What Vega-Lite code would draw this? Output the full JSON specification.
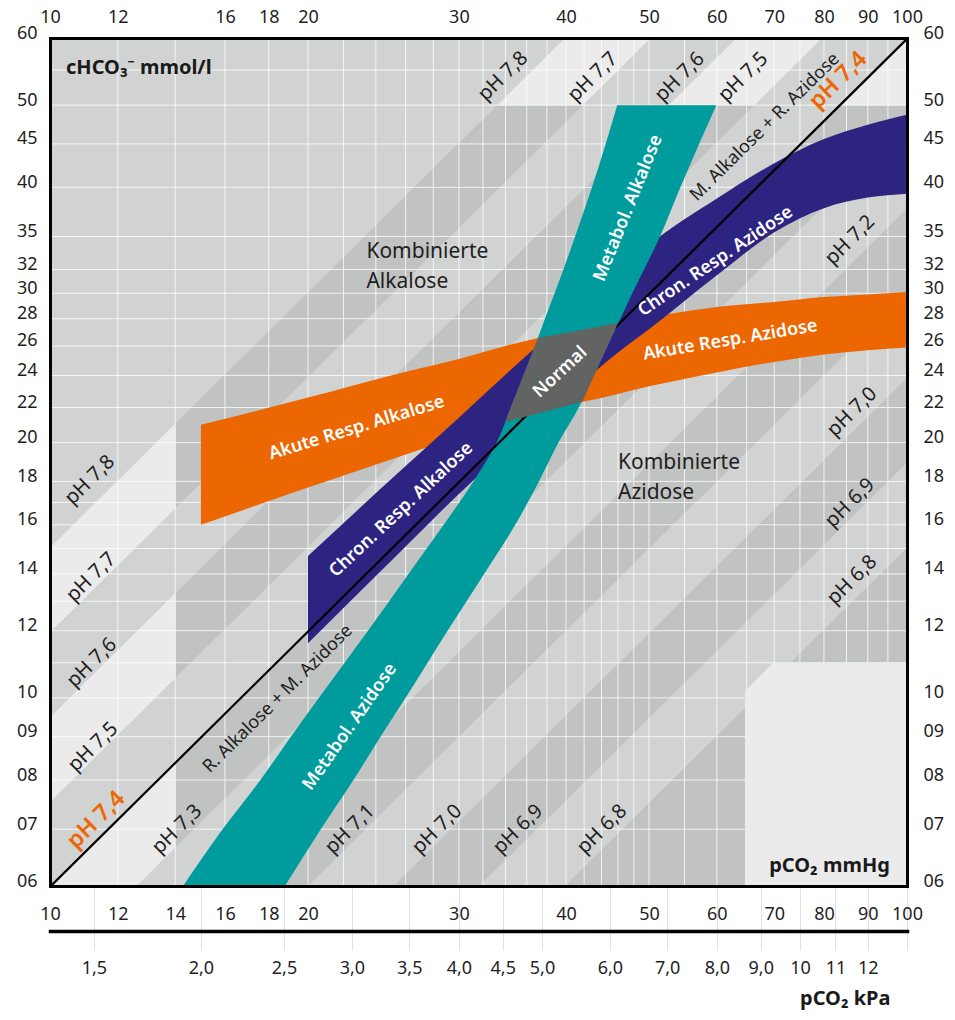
{
  "$schema": "https://vega.github.io/schema/vega-lite/v6.json",
  "width": 857,
  "height": 848,
  "autosize": {"type": "none"},
  "padding": {"left": 50, "top": 38, "right": 48, "bottom": 134},
  "background": "#ffffff",
  "config": {
    "font": "Noto Sans",
    "view": {"fill": "#d1d2d2", "stroke": null}
  },
  "datasets": {
    "acid_bands": [
      {"band": "7.7-7.8", "pco2": 10, "hco3_low": 11.943, "hco3_high": 15.036},
      {"band": "7.7-7.8", "pco2": 100, "hco3_low": 119.43, "hco3_high": 150.36},
      {"band": "7.5-7.6", "pco2": 10, "hco3_low": 7.536, "hco3_high": 9.487},
      {"band": "7.5-7.6", "pco2": 100, "hco3_low": 75.36, "hco3_high": 94.87},
      {"band": "7.3-7.4", "pco2": 10, "hco3_low": 4.755, "hco3_high": 5.986},
      {"band": "7.3-7.4", "pco2": 100, "hco3_low": 47.55, "hco3_high": 59.86},
      {"band": "7.1-7.2", "pco2": 10, "hco3_low": 3.0, "hco3_high": 3.777},
      {"band": "7.1-7.2", "pco2": 100, "hco3_low": 30.0, "hco3_high": 37.77},
      {"band": "6.9-7.0", "pco2": 10, "hco3_low": 1.893, "hco3_high": 2.383},
      {"band": "6.9-7.0", "pco2": 100, "hco3_low": 18.93, "hco3_high": 23.83},
      {"band": "below 6.8", "pco2": 10, "hco3_low": 0.238, "hco3_high": 1.504},
      {"band": "below 6.8", "pco2": 100, "hco3_low": 2.383, "hco3_high": 15.04}
    ],
    "edge_strips": [
      {"pco2_from": 10, "pco2_to": 14, "hco3_from": 6, "hco3_to": 60},
      {"pco2_from": 10, "pco2_to": 100, "hco3_from": 50, "hco3_to": 60}
    ],
    "left_strip_bands": [
      {"band": "7.7-7.8", "pco2": 10, "hco3_low": 11.943, "hco3_high": 15.036},
      {"band": "7.7-7.8", "pco2": 14, "hco3_low": 16.72, "hco3_high": 21.05},
      {"band": "7.5-7.6", "pco2": 10, "hco3_low": 7.536, "hco3_high": 9.487},
      {"band": "7.5-7.6", "pco2": 14, "hco3_low": 10.55, "hco3_high": 13.282},
      {"band": "7.3-7.4", "pco2": 10, "hco3_low": 4.755, "hco3_high": 5.986},
      {"band": "7.3-7.4", "pco2": 14, "hco3_low": 6.657, "hco3_high": 8.38}
    ],
    "top_strip_bands": [
      {"band": "7.7-7.8", "hco3": 50, "pco2_low": 33.25, "pco2_high": 41.86},
      {"band": "7.7-7.8", "hco3": 60, "pco2_low": 39.91, "pco2_high": 50.24},
      {"band": "7.5-7.6", "hco3": 50, "pco2_low": 52.71, "pco2_high": 66.35},
      {"band": "7.5-7.6", "hco3": 60, "pco2_low": 63.25, "pco2_high": 79.62},
      {"band": "7.3-7.4", "hco3": 50, "pco2_low": 83.53, "pco2_high": 105.16},
      {"band": "7.3-7.4", "hco3": 60, "pco2_low": 100.24, "pco2_high": 126.19}
    ],
    "grid_pco2": [
      {"pco2": 12}, {"pco2": 14}, {"pco2": 16}, {"pco2": 18}, {"pco2": 20},
      {"pco2": 22}, {"pco2": 24}, {"pco2": 26}, {"pco2": 28}, {"pco2": 30},
      {"pco2": 32}, {"pco2": 34}, {"pco2": 36}, {"pco2": 38}, {"pco2": 40},
      {"pco2": 42}, {"pco2": 44}, {"pco2": 46}, {"pco2": 48}, {"pco2": 50},
      {"pco2": 55}, {"pco2": 60}, {"pco2": 65}, {"pco2": 70}, {"pco2": 75},
      {"pco2": 80}, {"pco2": 85}, {"pco2": 90}, {"pco2": 95}
    ],
    "grid_hco3": [
      {"hco3": 7}, {"hco3": 8}, {"hco3": 9}, {"hco3": 10}, {"hco3": 11},
      {"hco3": 12}, {"hco3": 13}, {"hco3": 14}, {"hco3": 15}, {"hco3": 16},
      {"hco3": 17}, {"hco3": 18}, {"hco3": 20}, {"hco3": 22}, {"hco3": 24},
      {"hco3": 26}, {"hco3": 28}, {"hco3": 30}, {"hco3": 32}, {"hco3": 35},
      {"hco3": 40}, {"hco3": 45}, {"hco3": 50}, {"hco3": 55}
    ],
    "corner": [
      {"pco2": 64.7, "hco3_top": 10.19, "hco3_bottom": 6},
      {"pco2": 69.8, "hco3_top": 11.0, "hco3_bottom": 6},
      {"pco2": 100, "hco3_top": 11.0, "hco3_bottom": 6}
    ],
    "acute": [
      {"pco2": 15, "hco3_high": 21.0, "hco3_low": 16.0},
      {"pco2": 20, "hco3_high": 22.6, "hco3_low": 17.7},
      {"pco2": 25, "hco3_high": 24.0, "hco3_low": 19.1},
      {"pco2": 30, "hco3_high": 25.1, "hco3_low": 20.3},
      {"pco2": 35, "hco3_high": 26.2, "hco3_low": 21.3},
      {"pco2": 40, "hco3_high": 27.0, "hco3_low": 22.1},
      {"pco2": 45, "hco3_high": 27.6, "hco3_low": 22.7},
      {"pco2": 50, "hco3_high": 28.1, "hco3_low": 23.3},
      {"pco2": 60, "hco3_high": 28.9, "hco3_low": 24.2},
      {"pco2": 70, "hco3_high": 29.3, "hco3_low": 24.9},
      {"pco2": 80, "hco3_high": 29.7, "hco3_low": 25.4},
      {"pco2": 90, "hco3_high": 29.9, "hco3_low": 25.7},
      {"pco2": 100, "hco3_high": 30.1, "hco3_low": 25.9}
    ],
    "chronic": [
      {"pco2": 20, "hco3_high": 14.7, "hco3_low": 11.6},
      {"pco2": 25, "hco3_high": 18.1, "hco3_low": 14.5},
      {"pco2": 30, "hco3_high": 21.4, "hco3_low": 17.4},
      {"pco2": 35, "hco3_high": 24.7, "hco3_low": 20.1},
      {"pco2": 40, "hco3_high": 27.9, "hco3_low": 22.6},
      {"pco2": 45, "hco3_high": 31.1, "hco3_low": 25.1},
      {"pco2": 50, "hco3_high": 34.2, "hco3_low": 27.2},
      {"pco2": 60, "hco3_high": 38.8, "hco3_low": 31.5},
      {"pco2": 70, "hco3_high": 42.7, "hco3_low": 35.4},
      {"pco2": 80, "hco3_high": 45.6, "hco3_low": 37.8},
      {"pco2": 90, "hco3_high": 47.4, "hco3_low": 38.9},
      {"pco2": 100, "hco3_high": 48.7, "hco3_low": 39.3}
    ],
    "metabolic": [
      {"hco3": 6, "pco2_low": 14.3, "pco2_high": 18.8},
      {"hco3": 7, "pco2_low": 15.9, "pco2_high": 20.7},
      {"hco3": 8, "pco2_low": 17.6, "pco2_high": 22.6},
      {"hco3": 9, "pco2_low": 19.1, "pco2_high": 24.3},
      {"hco3": 10, "pco2_low": 20.6, "pco2_high": 26.0},
      {"hco3": 12, "pco2_low": 23.5, "pco2_high": 29.1},
      {"hco3": 14, "pco2_low": 26.2, "pco2_high": 32.1},
      {"hco3": 16, "pco2_low": 28.8, "pco2_high": 34.9},
      {"hco3": 18, "pco2_low": 31.2, "pco2_high": 37.2},
      {"hco3": 20, "pco2_low": 33.2, "pco2_high": 39.2},
      {"hco3": 22, "pco2_low": 34.5, "pco2_high": 41.4},
      {"hco3": 24, "pco2_low": 35.7, "pco2_high": 43.1},
      {"hco3": 26, "pco2_low": 36.8, "pco2_high": 44.7},
      {"hco3": 28, "pco2_low": 37.8, "pco2_high": 46.3},
      {"hco3": 30, "pco2_low": 38.8, "pco2_high": 47.8},
      {"hco3": 35, "pco2_low": 41.0, "pco2_high": 51.5},
      {"hco3": 40, "pco2_low": 42.9, "pco2_high": 54.4},
      {"hco3": 45, "pco2_low": 44.5, "pco2_high": 57.2},
      {"hco3": 50, "pco2_low": 45.9, "pco2_high": 59.9}
    ],
    "normal": [
      {"hco3": 21.15, "pco2_low": 33.96, "pco2_high": 33.96},
      {"hco3": 22.33, "pco2_low": 34.68, "pco2_high": 41.77},
      {"hco3": 26.57, "pco2_low": 37.11, "pco2_high": 45.17},
      {"hco3": 27.68, "pco2_low": 46.0, "pco2_high": 46.0}
    ],
    "ph74_line": [
      {"pco2": 10, "hco3": 5.986, "pco2_end": 100, "hco3_end": 59.86}
    ],
    "ph_labels": [
      {"label": "pH 7,8", "pco2": 11.13, "hco3": 18.07},
      {"label": "pH 7,7", "pco2": 11.17, "hco3": 13.88},
      {"label": "pH 7,6", "pco2": 11.19, "hco3": 11.0},
      {"label": "pH 7,5", "pco2": 11.23, "hco3": 8.75},
      {"label": "pH 7,8", "pco2": 33.78, "hco3": 54.1},
      {"label": "pH 7,7", "pco2": 43.0, "hco3": 53.97},
      {"label": "pH 7,6", "pco2": 54.3, "hco3": 53.97},
      {"label": "pH 7,5", "pco2": 64.4, "hco3": 53.97},
      {"label": "pH 7,2", "pco2": 85.8, "hco3": 34.66},
      {"label": "pH 7,0", "pco2": 86.3, "hco3": 21.74},
      {"label": "pH 6,9", "pco2": 85.8, "hco3": 16.98},
      {"label": "pH 6,8", "pco2": 86.3, "hco3": 13.77},
      {"label": "pH 7,3", "pco2": 14.07, "hco3": 7.0},
      {"label": "pH 7,1", "pco2": 22.39, "hco3": 7.0},
      {"label": "pH 7,0", "pco2": 28.29, "hco3": 7.0},
      {"label": "pH 6,9", "pco2": 35.17, "hco3": 7.0},
      {"label": "pH 6,8", "pco2": 44.07, "hco3": 7.0}
    ],
    "ph74_labels": [
      {"label": "pH 7,4", "pco2": 11.32, "hco3": 7.18},
      {"label": "pH 7,4", "pco2": 83.1, "hco3": 53.5}
    ],
    "mixed_labels": [
      {"label": "M. Alkalose + R. Azidose", "pco2": 68.3, "hco3": 47.1},
      {"label": "R. Alkalose + M. Azidose", "pco2": 18.45, "hco3": 9.97}
    ],
    "region_labels": [
      {"label": "Kombinierte\nAlkalose", "pco2": 23.4, "hco3": 33.6},
      {"label": "Kombinierte\nAzidose", "pco2": 46.0, "hco3": 18.9}
    ]
  },
  "resolve": {
    "scale": {"x": "independent", "y": "independent"},
    "axis": {"x": "independent", "y": "independent"}
  },
  "layer": [
    {
      "layer": [
        {
          "data": {"name": "acid_bands"},
          "mark": {"type": "area", "orient": "vertical", "color": "#c1c2c2", "clip": true},
          "encoding": {
            "x": {"field": "pco2", "type": "quantitative", "scale": {"type": "log", "domain": [10, 100], "nice": false}, "axis": null},
            "y": {"field": "hco3_low", "type": "quantitative", "scale": {"type": "log", "domain": [6, 60], "nice": false}, "axis": null, "stack": null},
            "y2": {"field": "hco3_high"},
            "detail": {"field": "band", "type": "nominal"}
          }
        },
        {
          "data": {"name": "edge_strips"},
          "mark": {"type": "rect", "color": "#d1d2d2", "clip": true},
          "encoding": {
            "x": {"field": "pco2_from", "type": "quantitative", "scale": {"type": "log", "domain": [10, 100], "nice": false}, "axis": null},
            "x2": {"field": "pco2_to"},
            "y": {"field": "hco3_from", "type": "quantitative", "scale": {"type": "log", "domain": [6, 60], "nice": false}, "axis": null},
            "y2": {"field": "hco3_to"}
          }
        },
        {
          "data": {"name": "left_strip_bands"},
          "mark": {"type": "area", "orient": "vertical", "color": "#ebebeb", "clip": true},
          "encoding": {
            "x": {"field": "pco2", "type": "quantitative", "scale": {"type": "log", "domain": [10, 100], "nice": false}, "axis": null},
            "y": {"field": "hco3_low", "type": "quantitative", "scale": {"type": "log", "domain": [6, 60], "nice": false}, "axis": null, "stack": null},
            "y2": {"field": "hco3_high"},
            "detail": {"field": "band", "type": "nominal"}
          }
        },
        {
          "data": {"name": "top_strip_bands"},
          "mark": {"type": "area", "orient": "horizontal", "color": "#ebebeb", "clip": true},
          "encoding": {
            "y": {"field": "hco3", "type": "quantitative", "scale": {"type": "log", "domain": [6, 60], "nice": false}, "axis": null},
            "x": {"field": "pco2_low", "type": "quantitative", "scale": {"type": "log", "domain": [10, 100], "nice": false}, "axis": null, "stack": null},
            "x2": {"field": "pco2_high"},
            "detail": {"field": "band", "type": "nominal"}
          }
        },
        {
          "data": {"name": "grid_pco2"},
          "mark": {"type": "rule", "color": "#ffffff", "opacity": 0.78, "strokeWidth": 1, "clip": true},
          "encoding": {
            "x": {"field": "pco2", "type": "quantitative", "scale": {"type": "log", "domain": [10, 100], "nice": false}, "axis": null}
          }
        },
        {
          "data": {"name": "grid_hco3"},
          "mark": {"type": "rule", "color": "#ffffff", "opacity": 0.78, "strokeWidth": 1, "clip": true},
          "encoding": {
            "y": {"field": "hco3", "type": "quantitative", "scale": {"type": "log", "domain": [6, 60], "nice": false}, "axis": null}
          }
        },
        {
          "data": {"name": "corner"},
          "mark": {"type": "area", "orient": "vertical", "color": "#ebebeb", "clip": true},
          "encoding": {
            "x": {"field": "pco2", "type": "quantitative", "scale": {"type": "log", "domain": [10, 100], "nice": false}, "axis": null},
            "y": {"field": "hco3_top", "type": "quantitative", "scale": {"type": "log", "domain": [6, 60], "nice": false}, "axis": null, "stack": null},
            "y2": {"field": "hco3_bottom"}
          }
        },
        {
          "data": {"name": "acute"},
          "mark": {"type": "area", "orient": "vertical", "interpolate": "monotone", "color": "#ec6602", "clip": true},
          "encoding": {
            "x": {"field": "pco2", "type": "quantitative", "scale": {"type": "log", "domain": [10, 100], "nice": false}, "axis": null},
            "y": {"field": "hco3_high", "type": "quantitative", "scale": {"type": "log", "domain": [6, 60], "nice": false}, "axis": null, "stack": null},
            "y2": {"field": "hco3_low"}
          }
        },
        {
          "data": {"name": "chronic"},
          "mark": {"type": "area", "orient": "vertical", "interpolate": "monotone", "color": "#2d2482", "clip": true},
          "encoding": {
            "x": {"field": "pco2", "type": "quantitative", "scale": {"type": "log", "domain": [10, 100], "nice": false}, "axis": null},
            "y": {"field": "hco3_high", "type": "quantitative", "scale": {"type": "log", "domain": [6, 60], "nice": false}, "axis": null, "stack": null},
            "y2": {"field": "hco3_low"}
          }
        },
        {
          "data": {"name": "metabolic"},
          "mark": {"type": "area", "orient": "horizontal", "interpolate": "monotone", "color": "#009b9d", "clip": true},
          "encoding": {
            "y": {"field": "hco3", "type": "quantitative", "scale": {"type": "log", "domain": [6, 60], "nice": false}, "axis": null},
            "x": {"field": "pco2_low", "type": "quantitative", "scale": {"type": "log", "domain": [10, 100], "nice": false}, "axis": null, "stack": null},
            "x2": {"field": "pco2_high"}
          }
        },
        {
          "data": {"name": "ph74_line"},
          "mark": {"type": "rule", "color": "#000000", "strokeWidth": 2.2, "clip": true},
          "encoding": {
            "x": {"field": "pco2", "type": "quantitative", "scale": {"type": "log", "domain": [10, 100], "nice": false}, "axis": null},
            "y": {"field": "hco3", "type": "quantitative", "scale": {"type": "log", "domain": [6, 60], "nice": false}, "axis": null},
            "x2": {"field": "pco2_end"},
            "y2": {"field": "hco3_end"}
          }
        },
        {
          "data": {"name": "normal"},
          "mark": {"type": "area", "orient": "horizontal", "color": "#626463", "clip": true},
          "encoding": {
            "y": {"field": "hco3", "type": "quantitative", "scale": {"type": "log", "domain": [6, 60], "nice": false}, "axis": null},
            "x": {"field": "pco2_low", "type": "quantitative", "scale": {"type": "log", "domain": [10, 100], "nice": false}, "axis": null, "stack": null},
            "x2": {"field": "pco2_high"}
          }
        },
        {
          "data": {"name": "ph_labels"},
          "mark": {"type": "text", "angle": 315.3, "fontSize": 20, "color": "#1f1f1f", "align": "center", "baseline": "middle"},
          "encoding": {
            "x": {"field": "pco2", "type": "quantitative", "scale": {"type": "log", "domain": [10, 100], "nice": false}, "axis": null},
            "y": {"field": "hco3", "type": "quantitative", "scale": {"type": "log", "domain": [6, 60], "nice": false}, "axis": null},
            "text": {"field": "label", "type": "nominal"}
          }
        },
        {
          "data": {"name": "ph74_labels"},
          "mark": {"type": "text", "angle": 315.3, "fontSize": 23, "fontWeight": 600, "color": "#ec6602", "align": "center", "baseline": "middle"},
          "encoding": {
            "x": {"field": "pco2", "type": "quantitative", "scale": {"type": "log", "domain": [10, 100], "nice": false}, "axis": null},
            "y": {"field": "hco3", "type": "quantitative", "scale": {"type": "log", "domain": [6, 60], "nice": false}, "axis": null},
            "text": {"field": "label", "type": "nominal"}
          }
        },
        {
          "data": {"name": "mixed_labels"},
          "mark": {"type": "text", "angle": 315.3, "fontSize": 18, "color": "#1f1f1f", "align": "center", "baseline": "middle"},
          "encoding": {
            "x": {"field": "pco2", "type": "quantitative", "scale": {"type": "log", "domain": [10, 100], "nice": false}, "axis": null},
            "y": {"field": "hco3", "type": "quantitative", "scale": {"type": "log", "domain": [6, 60], "nice": false}, "axis": null},
            "text": {"field": "label", "type": "nominal"}
          }
        },
        {
          "data": {"name": "region_labels"},
          "mark": {"type": "text", "fontSize": 21, "color": "#1f1f1f", "align": "left", "baseline": "middle", "lineBreak": "\n", "lineHeight": 30},
          "encoding": {
            "x": {"field": "pco2", "type": "quantitative", "scale": {"type": "log", "domain": [10, 100], "nice": false}, "axis": null},
            "y": {"field": "hco3", "type": "quantitative", "scale": {"type": "log", "domain": [6, 60], "nice": false}, "axis": null},
            "text": {"field": "label", "type": "nominal"}
          }
        },
        {
          "data": {"values": [{"label": "Akute Resp. Alkalose", "pco2": 22.8, "hco3": 20.8}]},
          "mark": {"type": "text", "angle": 343, "fontSize": 18, "fontWeight": 600, "color": "#ffffff", "align": "center", "baseline": "middle"},
          "encoding": {
            "x": {"field": "pco2", "type": "quantitative", "scale": {"type": "log", "domain": [10, 100], "nice": false}, "axis": null},
            "y": {"field": "hco3", "type": "quantitative", "scale": {"type": "log", "domain": [6, 60], "nice": false}, "axis": null},
            "text": {"field": "label", "type": "nominal"}
          }
        },
        {
          "data": {"values": [{"label": "Akute Resp. Azidose", "pco2": 62.2, "hco3": 26.4}]},
          "mark": {"type": "text", "angle": 350.5, "fontSize": 18, "fontWeight": 600, "color": "#ffffff", "align": "center", "baseline": "middle"},
          "encoding": {
            "x": {"field": "pco2", "type": "quantitative", "scale": {"type": "log", "domain": [10, 100], "nice": false}, "axis": null},
            "y": {"field": "hco3", "type": "quantitative", "scale": {"type": "log", "domain": [6, 60], "nice": false}, "axis": null},
            "text": {"field": "label", "type": "nominal"}
          }
        },
        {
          "data": {"values": [{"label": "Chron. Resp. Alkalose", "pco2": 25.7, "hco3": 16.66}, {"label": "Normal", "pco2": 39.4, "hco3": 24.2}]},
          "mark": {"type": "text", "angle": 317, "fontSize": 18, "fontWeight": 600, "color": "#ffffff", "align": "center", "baseline": "middle"},
          "encoding": {
            "x": {"field": "pco2", "type": "quantitative", "scale": {"type": "log", "domain": [10, 100], "nice": false}, "axis": null},
            "y": {"field": "hco3", "type": "quantitative", "scale": {"type": "log", "domain": [6, 60], "nice": false}, "axis": null},
            "text": {"field": "label", "type": "nominal"}
          }
        },
        {
          "data": {"values": [{"label": "Chron. Resp. Azidose", "pco2": 59.8, "hco3": 32.7}]},
          "mark": {"type": "text", "angle": 326, "fontSize": 18, "fontWeight": 600, "color": "#ffffff", "align": "center", "baseline": "middle"},
          "encoding": {
            "x": {"field": "pco2", "type": "quantitative", "scale": {"type": "log", "domain": [10, 100], "nice": false}, "axis": null},
            "y": {"field": "hco3", "type": "quantitative", "scale": {"type": "log", "domain": [6, 60], "nice": false}, "axis": null},
            "text": {"field": "label", "type": "nominal"}
          }
        },
        {
          "data": {"values": [{"label": "Metabol. Alkalose", "pco2": 47.3, "hco3": 37.8}]},
          "mark": {"type": "text", "angle": 292, "fontSize": 18, "fontWeight": 600, "color": "#ffffff", "align": "center", "baseline": "middle"},
          "encoding": {
            "x": {"field": "pco2", "type": "quantitative", "scale": {"type": "log", "domain": [10, 100], "nice": false}, "axis": null},
            "y": {"field": "hco3", "type": "quantitative", "scale": {"type": "log", "domain": [6, 60], "nice": false}, "axis": null},
            "text": {"field": "label", "type": "nominal"}
          }
        },
        {
          "data": {"values": [{"label": "Metabol. Azidose", "pco2": 22.39, "hco3": 9.24}]},
          "mark": {"type": "text", "angle": 305, "fontSize": 18, "fontWeight": 600, "color": "#ffffff", "align": "center", "baseline": "middle"},
          "encoding": {
            "x": {"field": "pco2", "type": "quantitative", "scale": {"type": "log", "domain": [10, 100], "nice": false}, "axis": null},
            "y": {"field": "hco3", "type": "quantitative", "scale": {"type": "log", "domain": [6, 60], "nice": false}, "axis": null},
            "text": {"field": "label", "type": "nominal"}
          }
        },
        {
          "data": {"values": [{"label": "cHCO\u2083\u207b mmol/l", "pco2": 10.44, "hco3": 55.3}]},
          "mark": {"type": "text", "fontSize": 20, "fontWeight": "bold", "color": "#1a1a1a", "align": "left", "baseline": "middle"},
          "encoding": {
            "x": {"field": "pco2", "type": "quantitative", "scale": {"type": "log", "domain": [10, 100], "nice": false}, "axis": null},
            "y": {"field": "hco3", "type": "quantitative", "scale": {"type": "log", "domain": [6, 60], "nice": false}, "axis": null},
            "text": {"field": "label", "type": "nominal"}
          }
        },
        {
          "data": {"values": [{"label": "pCO\u2082 mmHg", "pco2": 95.5, "hco3": 6.33}]},
          "mark": {"type": "text", "fontSize": 20, "fontWeight": "bold", "color": "#1a1a1a", "align": "right", "baseline": "middle"},
          "encoding": {
            "x": {"field": "pco2", "type": "quantitative", "scale": {"type": "log", "domain": [10, 100], "nice": false}, "axis": null},
            "y": {"field": "hco3", "type": "quantitative", "scale": {"type": "log", "domain": [6, 60], "nice": false}, "axis": null},
            "text": {"field": "label", "type": "nominal"}
          }
        }
      ]
    },
    {
      "data": {"values": [{"pco2": 10, "hco3": 6}]},
      "mark": {"type": "point", "opacity": 0},
      "encoding": {
        "x": {
          "field": "pco2", "type": "quantitative",
          "scale": {"type": "log", "domain": [10, 100], "nice": false},
          "axis": {"orient": "bottom", "values": [10, 12, 14, 16, 18, 20, 30, 40, 50, 60, 70, 80, 90, 100], "format": "d", "title": null, "grid": false, "ticks": false, "tickSize": 0, "domainColor": "#000000", "domainWidth": 3, "domainCap": "square", "labelFontSize": 18, "labelColor": "#1f1f1f", "labelPadding": 19, "labelFlush": false, "labelOverlap": false, "zindex": 1}
        },
        "y": {
          "field": "hco3", "type": "quantitative",
          "scale": {"type": "log", "domain": [6, 60], "nice": false},
          "axis": {"orient": "left", "values": [6, 7, 8, 9, 10, 12, 14, 16, 18, 20, 22, 24, 26, 28, 30, 32, 35, 40, 45, 50, 60], "format": "02d", "title": null, "grid": false, "ticks": false, "tickSize": 0, "domainColor": "#000000", "domainWidth": 3, "domainCap": "square", "labelFontSize": 18, "labelColor": "#1f1f1f", "labelPadding": 13, "labelBaseline": "alphabetic", "labelFlush": false, "labelOverlap": false, "zindex": 1}
        }
      }
    },
    {
      "data": {"values": [{"pco2": 10, "hco3": 6}]},
      "mark": {"type": "point", "opacity": 0},
      "encoding": {
        "x": {
          "field": "pco2", "type": "quantitative",
          "scale": {"type": "log", "domain": [10, 100], "nice": false},
          "axis": {"orient": "top", "values": [10, 12, 16, 18, 20, 30, 40, 50, 60, 70, 80, 90, 100], "format": "d", "title": null, "grid": false, "ticks": false, "tickSize": 0, "domainColor": "#000000", "domainWidth": 3, "domainCap": "square", "labelFontSize": 18, "labelColor": "#1f1f1f", "labelPadding": 12, "labelFlush": false, "labelOverlap": false, "zindex": 1}
        },
        "y": {
          "field": "hco3", "type": "quantitative",
          "scale": {"type": "log", "domain": [6, 60], "nice": false},
          "axis": {"orient": "right", "values": [6, 7, 8, 9, 10, 12, 14, 16, 18, 20, 22, 24, 26, 28, 30, 32, 35, 40, 45, 50, 60], "format": "02d", "title": null, "grid": false, "ticks": false, "tickSize": 0, "domainColor": "#000000", "domainWidth": 3, "domainCap": "square", "labelFontSize": 18, "labelColor": "#1f1f1f", "labelPadding": 16, "labelBaseline": "alphabetic", "labelFlush": false, "labelOverlap": false, "zindex": 1}
        }
      }
    },
    {
      "data": {"values": [{"pco2_kpa": 2}]},
      "mark": {"type": "rule", "opacity": 0},
      "encoding": {
        "x": {
          "field": "pco2_kpa", "type": "quantitative",
          "scale": {"type": "log", "domain": [1.33322, 13.3322], "nice": false},
          "axis": {"orient": "bottom", "offset": 45, "values": [1.5, 2, 2.5, 3, 3.5, 4, 4.5, 5, 6, 7, 8, 9, 10, 11, 12, 13.3322], "labelExpr": "datum.value > 12.5 ? '' : datum.value >= 10 ? format(datum.value, 'd') : replace(format(datum.value, '.1f'), '.', ',')", "grid": false, "ticks": true, "tickColor": "#e2e2e2", "tickSize": 19, "tickWidth": 1, "domainColor": "#000000", "domainWidth": 3.5, "domainCap": "square", "labelFontSize": 18, "labelColor": "#1f1f1f", "labelPadding": 9, "labelFlush": false, "labelOverlap": false, "title": "pCO\u2082 kPa", "titleFontSize": 20, "titleFontWeight": "bold", "titleColor": "#1a1a1a", "titleAlign": "right", "titleX": 840, "titlePadding": 11, "zindex": 1}
        }
      }
    },
    {
      "data": {"values": [{"pco2_kpa": 2}]},
      "mark": {"type": "rule", "opacity": 0},
      "encoding": {
        "x": {
          "field": "pco2_kpa", "type": "quantitative",
          "scale": {"type": "log", "domain": [1.33322, 13.3322], "nice": false},
          "axis": {"orient": "bottom", "offset": 2, "values": [1.5, 2, 2.5, 3, 3.5, 4, 4.5, 5, 6, 7, 8, 9, 10, 11, 12, 13.3322], "labels": false, "domain": false, "grid": false, "ticks": true, "tickColor": "#e2e2e2", "tickSize": 43, "tickWidth": 1, "title": null, "zindex": 0}
        }
      }
    }
  ]
}
